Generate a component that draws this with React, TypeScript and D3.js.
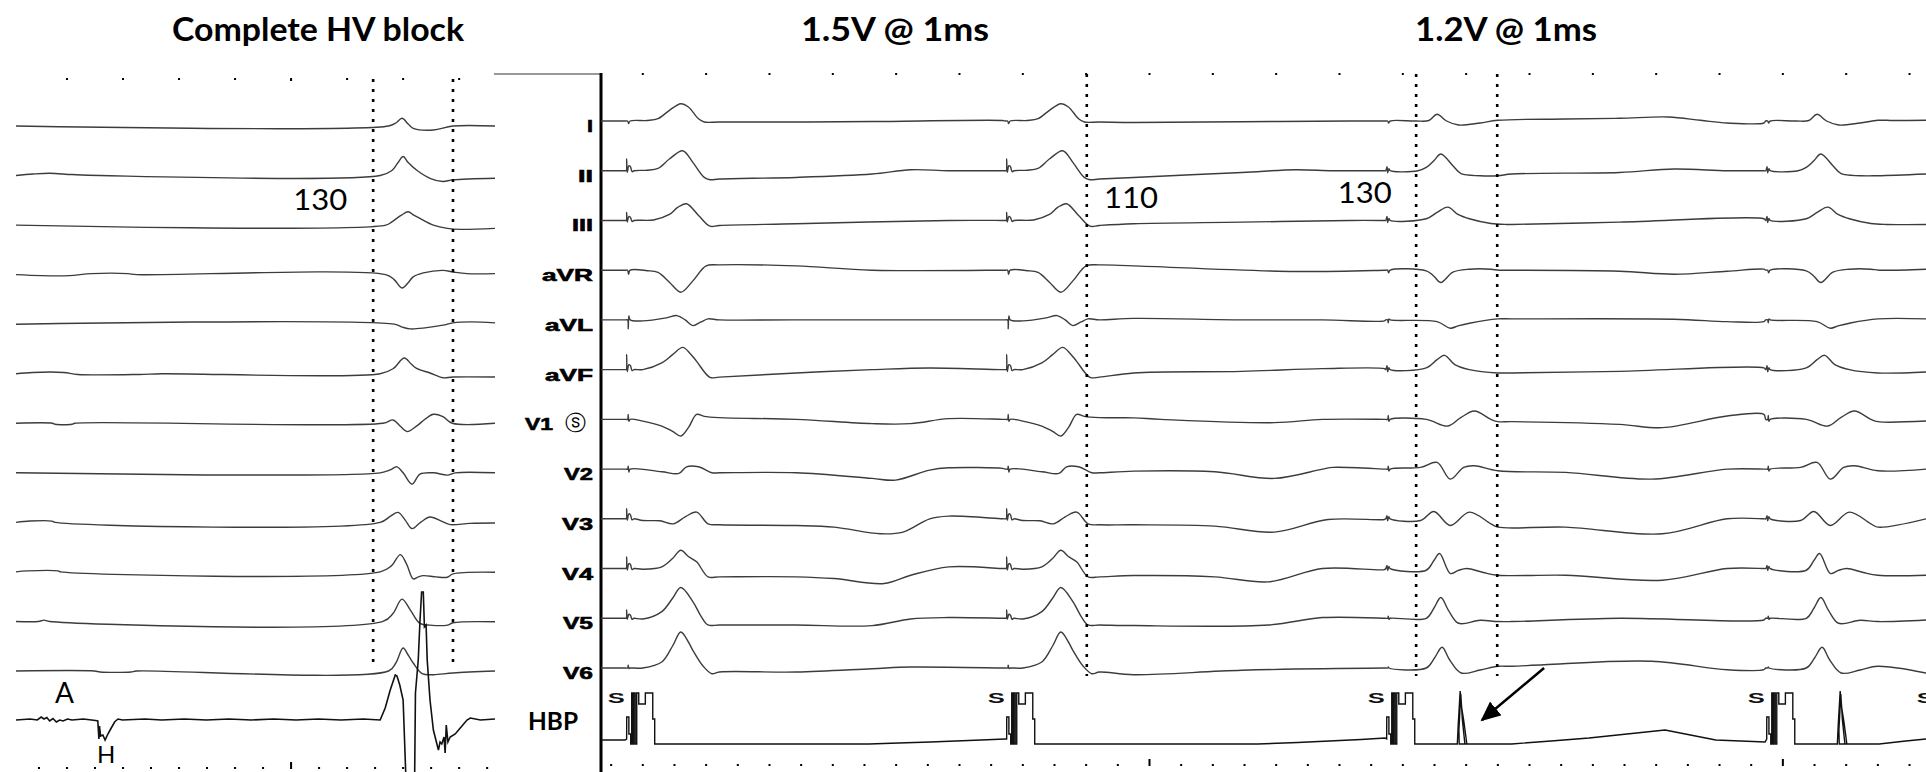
import * as d3 from "d3";

// lead order, top to bottom, in both panels
const leadNames = ["I", "II", "III", "aVR", "aVL", "aVF", "V1", "V2", "V3", "V4", "V5", "V6"];

const titles = ["Complete HV block", "1.5V @ 1ms", "1.2V @ 1ms"];

// ---- left panel: complete HV block (time in ms, amplitude in trace units, up = +) ----
const leftTraces: Record<string, number[][]> = {
  I: [[0, 0], [665, 0], [678, 3], [689, 7.7], [700, 2], [709, -2.3], [745, -4], [780, 0], [855, 0]],
  II: [[0, 0], [30, 1.5], [60, 2.3], [100, 1], [150, 0], [650, 0], [671, 5], [682, 13], [691, 19], [700, 13], [716, 5], [740, -3], [762, -6], [780, -4.3], [855, -2.7]],
  III: [[0, 0], [660, 0], [671, 3.3], [688, 10], [700, 13.3], [710, 10], [721, 6.7], [745, 0], [770, -3.3], [793, -4.3], [855, -3.3]],
  aVR: [[0, 0], [45, -1], [95, -1], [135, 1], [200, 1], [215, 0], [660, 0], [675, -5], [689, -13.3], [700, -8], [709, -2.3], [727, 1.7], [762, 4.3], [780, 2.7], [805, 1], [855, 1]],
  aVL: [[0, 0], [675, 0], [690, -3], [704, -4.7], [730, -3.7], [762, -1], [780, 1.3], [811, 2.3], [855, 1.3]],
  aVF: [[0, 0], [30, 1.3], [85, 1.3], [110, -0.7], [220, -0.7], [260, 0], [650, 0], [673, 5], [693, 15.7], [705, 10], [716, 5], [739, 0.7], [762, -4], [780, -3.3], [855, -3.3]],
  V1: [[0, 0], [65, 0], [70, -1], [100, -1], [105, 0], [655, 0], [673, 3.3], [686, -3], [698, -8.3], [716, -2.3], [730, 4], [745, 9], [762, 6.7], [779, 0], [855, 0]],
  V2: [[0, 0], [650, 0], [668, 3], [680, 6], [691, 0], [707, -11.3], [721, -1.3], [745, 0], [770, -2.3], [784, 0], [855, 0]],
  V3: [[0, 0], [25, 1.3], [64, 1.3], [70, 0], [650, 0], [668, 6], [682, 10], [695, 2], [707, -6.3], [722, 0], [739, 5.3], [760, 1], [775, -2.3], [810, -1], [855, -0.7]],
  V4: [[0, 0], [20, 1], [75, 1], [80, 0], [650, 0], [670, 6], [686, 17.3], [697, 8], [709, -7], [718, -5], [727, -3.7], [750, -5], [770, -5.3], [780, -2], [855, -0.3]],
  V5: [[0, 0], [40, 0], [50, 1.3], [60, 0], [655, 0], [673, 8], [689, 22.3], [704, 11.3], [721, -2], [739, -3.7], [770, -3.7], [780, -1.3], [855, -0.3]],
  V6: [[0, 0], [140, 0], [150, -1], [205, -1], [215, 0], [665, 0], [678, 8], [691, 23], [700, 16], [709, 8], [725, -2.7], [745, -3.7], [780, -2], [855, 0]],
};

// His bundle electrogram under the left panel
const hvTrace = [
  [0, 0], [25, 1], [38, 0], [45, 3], [50, 1], [55, 2.5], [60, -1], [66, 1.5], [72, -2], [78, 0], [84, -1], [92, 1], [100, 0],
  [120, 1], [135, 0], [142, -0.5], [146, -1], [148, -19], [149, -6], [151, -16], [155, -15], [159, -20], [164, -14], [170, -8], [176, -2], [182, 1], [190, 0],
  [230, 1], [260, 0], [300, 1], [340, 0], [380, 1], [420, 0], [460, 1], [500, 0], [540, 1], [580, 0], [620, 1], [650, 0],
  [659, 12], [668, 30], [677, 45], [680, 44], [685, 35], [691, 20], [698, -90], [711, -90], [713, 27], [718, 60], [721, 98],
  [724, 128], [727, 128], [729, 93], [732, 95], [734, 60], [739, 20], [745, -10], [754, -30], [757, -22], [760, -24], [764, -17],
  [766, -33], [768, -5], [771, -22], [775, -17], [784, -14], [793, -8], [805, 0], [811, 2], [829, 0], [855, 1],
];

// ---- right panel: His bundle pacing ----
const pace15 = [43, 643];
const pace12 = [1243, 1843];

// beat shapes after each stimulus (dt in ms from the stimulus)
const beat15: Record<string, number[][]> = {
  I: [[-4, 0], [-1, 0], [0.5, -2.5], [3, 0], [30, 0.5], [47, 2.3], [65, 10.7], [83, 17.3], [95, 14], [111, 2.3], [120, -1], [144, -1]],
  II: [[-4, 0], [-3, 0], [-2.5, 11.7], [-1.5, -1.7], [1, 5], [3.5, 4], [6, -1], [9, 0], [30, 0.5], [47, 2.3], [65, 11.7], [86, 20], [102, 8.3], [120, -6.7], [129, -9], [144, -8.3]],
  III: [[-4, 0], [-3, 0], [-2.5, 8], [-1.5, -1.5], [1, 4], [3.5, 3], [6, -1], [9, 0], [40, 0.5], [65, 6], [78, 13], [92, 16.7], [111, 5], [129, -5.7], [144, -5]],
  aVR: [[-4, 0], [-1, 0], [0.5, -4], [3, 0], [30, -0.5], [47, -2.3], [65, -12], [83, -22], [102, -10.7], [123, 4.3], [144, 5.3]],
  aVL: [[-4, 0], [-1, 0], [0, -9], [1, 4], [3, 0], [23, -1], [60, 2], [77, 4.3], [90, 0], [102, -5.7], [115, -2], [126, 1], [144, 0]],
  aVF: [[-4, 0], [-3, 0], [-2.5, 15], [-1.5, -2], [1, 5], [3.5, 4], [6, -1], [9, 0], [23, 0], [53, 6.7], [70, 15], [86, 22.3], [98, 16], [108, 8.3], [129, -7.7], [144, -7.5]],
  V1: [[-4, 0], [-1, 0], [0, 5], [1, -2], [3, 0], [23, -1.7], [53, -6.7], [70, -12], [83, -16.7], [95, -8.3], [108, 5], [120, 3], [144, 1.7]],
  V2: [[-4, 0], [-1, 0], [0, 3], [1, -3], [3, 0], [53, -2.7], [80, -4.3], [92, 2.3], [111, 2.3], [132, -3.7], [144, -3.7]],
  V3: [[-4, 0], [-3, 0], [-2.5, 10], [-1.5, -1.5], [1, 5], [3.5, 4], [6, -1], [9, 0], [23, -1.7], [50, -2], [71, -5], [90, 2], [108, 6.7], [126, -5], [144, -6]],
  V4: [[-4, 0], [-3, 0], [-2.5, 11.7], [-1.5, -1.5], [1, 5], [3.5, 4], [6, -1], [9, 0], [23, -0.7], [53, 1.7], [70, 10], [83, 18.3], [95, 12], [108, 6.7], [126, -8.3], [144, -8.3]],
  V5: [[-4, 0], [-3, 0], [-2.5, 8.3], [-1.5, -1], [1, 4], [3.5, 3], [6, -1], [9, 0], [23, -0.7], [53, 6.7], [70, 20], [83, 30.7], [102, 16.7], [115, 2], [126, -6.7], [144, -6.7]],
  V6: [[-4, 0], [-1, 0], [0, 2.7], [1, -0.5], [3, 0], [23, 0], [53, 6], [70, 22], [83, 36], [95, 26], [102, 17.7], [118, 2], [132, -5.7], [144, -4]],
};

const beat12: Record<string, number[][]> = {
  I: [[-4, 0], [-1, 0], [0.5, -2], [3, 0], [43, 0], [64, 0.5], [77, 6.7], [92, 0], [111, -4], [145, -2], [173, 0.7]],
  II: [[-4, 0], [-2, 4], [-1, -2], [1, 2], [3, 0], [47, 0], [60, 3.3], [72, 10], [83, 16.7], [102, 5], [115, -3], [145, -5], [173, -5]],
  III: [[-4, 0], [-2, 4], [-1, -2], [1, 2], [3, 0], [60, 1.7], [77, 8], [94, 13.3], [110, 6], [128, 1.7], [162, -3], [187, -4]],
  aVR: [[-4, 0], [-1, 0], [0.5, -2.5], [3, 0], [60, -0.7], [72, -6], [83, -12.3], [102, -2], [128, 1], [162, 1], [175, 0]],
  aVL: [[-4, 0], [-1, 0], [0, -3], [1, 1], [3, 0], [77, -1.7], [98, -8.3], [110, -6], [128, -3.3], [173, 1]],
  aVF: [[-4, 0], [-2, 4], [-1, -2], [1, 2], [3, 0], [60, 1.7], [77, 10], [89, 14.3], [105, 5], [128, 0], [173, -3.3]],
  V1: [[-4, 0], [-1, 0], [0, 4], [1, -2], [3, 0], [60, 0], [94, -6.7], [115, 2], [136, 8.3], [162, 0], [173, -2.3]],
  V2: [[-4, 0], [-1, 0], [0, 3], [1, -2], [3, 0], [51, 1.7], [77, 6.7], [98, -10], [119, 1.7], [136, 3.3], [173, -1.7]],
  V3: [[-4, 0], [-2, 3], [-1, -2], [1, 2], [3, 0], [51, -1.7], [72, 7.3], [98, -6.7], [128, 6.7], [162, -5], [173, -8.3]],
  V4: [[-4, 0], [-2, 3], [-1, -2], [1, 2], [3, 0], [60, -1.7], [72, 8], [81, 15], [98, -5], [110, -2], [124, 0], [150, -4], [173, -6.7]],
  V5: [[-4, 0], [-1, 0], [0, 2], [1, -1], [3, 0], [60, 0], [72, 10], [83, 20.7], [95, 8], [111, -5], [145, -2], [173, -3.3]],
  V6: [[-4, 0], [-1, 0], [0, 1], [1, 0], [60, 0], [73, 10], [85, 20.7], [97, 8], [115, -5], [145, -2], [173, 1.7]],
};

// baseline wander between beats (absolute ms)
const drift: Record<string, number[][]> = {
  I: [[0, 0], [300, -1], [428, -0.5], [634, 0.5], [841, -1.5], [1012, -0.7], [1182, 0], [1237, 0], [1523, 2], [1608, 2.7], [1685, 4], [1736, 0.7], [1778, -2], [1836, -2], [2040, 0.5], [2092, 0.7]],
  II: [[0, 0], [308, -6.7], [428, -3.3], [489, 1], [549, 0], [634, 0], [841, -6.7], [1012, -1.7], [1097, 1], [1156, 0], [1237, 0], [1438, -3.3], [1608, -1.7], [1694, 1.7], [1778, 0], [1836, 0], [2092, -3.3]],
  III: [[0, 0], [308, -3.3], [549, 0], [634, 0], [841, -3.3], [1012, -1.7], [1182, 0], [1237, 0], [1438, -4], [1608, -1.7], [1836, 1.7], [2092, -4]],
  aVR: [[0, 0], [308, 4.3], [428, 0], [634, 0], [841, 4.3], [1097, -1.3], [1237, 0], [1438, 0], [1608, -1], [1694, -4], [1778, -1], [1836, 1], [2092, 1]],
  aVL: [[0, 0], [300, 0], [634, 0], [841, 1.5], [1012, 0], [1139, 0], [1237, -1], [1438, 1], [1694, 0.7], [1778, -1.7], [1836, -1.7], [2092, 1]],
  aVF: [[0, 0], [308, -3.3], [428, 0], [519, 1.7], [634, 0], [841, -3.3], [1012, -1.7], [1139, 1], [1237, 1], [1438, -3.3], [1608, -1.7], [1836, 1.7], [2092, -2.3]],
  V1: [[0, 0], [308, 0], [428, -4.3], [489, -4.3], [549, 0.7], [634, 0], [841, 1.5], [884, 0], [1063, -3.3], [1139, 0], [1237, 0], [1438, -2.3], [1608, -5], [1676, -8.3], [1778, 3.3], [1836, 5], [2092, -1.7]],
  V2: [[0, 0], [308, -3.7], [428, -9.3], [465, -11], [519, -1], [549, 1.3], [634, 0.7], [841, -2], [969, -2.7], [1063, -9.3], [1139, 0], [1156, 1.7], [1237, 0], [1523, -3.3], [1659, -10], [1778, 0], [1836, 0], [2092, 0]],
  V3: [[0, 0], [308, -6.7], [368, -8.3], [441, -15], [477, -13.3], [519, 0], [549, 2.7], [634, 0], [841, -6], [969, -7.3], [1063, -13.3], [1148, -0.7], [1237, -0.7], [1523, -8.3], [1676, -15], [1778, 0], [1836, 0], [2092, 0]],
  V4: [[0, 0], [308, -8.3], [368, -10], [447, -15], [489, -6.7], [549, 1.7], [634, 0], [841, -7], [969, -8.3], [1054, -13.3], [1139, 0], [1237, -1], [1523, -6.7], [1676, -11.7], [1778, 0], [1836, 0], [2092, -6.7]],
  V5: [[0, 0], [308, -6.7], [428, -7.3], [489, -0.7], [549, 0.7], [634, 0], [841, -7.3], [1054, -6.7], [1139, 0.7], [1237, 0], [1438, -3.3], [1608, 0], [1836, -1.7], [2092, -1.7]],
  V6: [[0, 0], [308, -4], [428, -0.7], [489, 1], [634, 0], [841, -6.7], [1012, -2.3], [1237, 0], [1438, 1.7], [1489, 3.3], [1659, 6.7], [1778, -1.7], [1836, -1.7], [2092, -5]],
};

// HBP channel
const hbpDrift = [[0, 4], [38, 4], [90, 0], [423, 0], [470, 1], [520, 2], [560, 3], [600, 4], [638, 5], [690, 0], [1037, 0], [1100, 1.5], [1150, 3], [1200, 4.5], [1238, 6], [1380, 0], [1438, 0], [1500, 3], [1560, 6], [1620, 10], [1680, 14], [1720, 9], [1760, 4], [1838, 2], [1980, 0], [2018, 0], [2060, 3], [2092, 5]];
const hbpPace = [
  [-2.5, 5], [-2.4, 27], [1, 27], [1, 10], [3.9, 10], [3.9, 0], [5.5, 0], [5.5, 51], [7.1, 51], [7.1, 0], [8.7, 0], [8.7, 51],
  [11, 51], [11, 0], [13.4, 0], [13.4, 51], [16.6, 51], [16.6, 40], [27, 40], [27, 51], [38.7, 51], [38.7, 25], [41.8, 25], [41.8, 0],
];
const hbpCapture = [[109, 0], [110.5, 20], [113.5, 53], [116, 36], [119, 24], [122, 10], [124, 0], [121, 0], [117, 24], [114.5, 50], [111.5, 14], [112, 0]];
const stimMarks = [24, 624, 1224, 1824, 2091];

// calipers and measured intervals
const leftCalipers = [637.5, 780];
const rightCalipers = [767, 1287, 1415];
const leftIntervals = [{ text: "130", t: 543 }];
const rightIntervals = [{ text: "110", t: 837 }, { text: "130", t: 1206 }];

const W = 1926;
const H = 772;

const xL = d3.scaleLinear().domain([0, 855]).range([16, 495]);
const xR = d3.scaleLinear().domain([0, 2092]).range([601, 1926]);
const rowL = d3.scalePoint().domain(leadNames).range([126, 671]);
const rowR = d3.scalePoint().domain(leadNames).range([121, 668]);
const amp = d3.scaleLinear().domain([0, 1]).range([0, -1]);
const hvBase = 720;
const hbpBase = 744;

function compose(base: number[][], events: { t0: number; tpl: number[][] }[]) {
  const evs = [...events].sort((a, b) => a.t0 + a.tpl[0][0] - (b.t0 + b.tpl[0][0]));
  const out: number[][] = [];
  let lastEnd = -Infinity;
  let i = 0;
  for (const e of evs) {
    const start = e.t0 + e.tpl[0][0];
    while (i < base.length && base[i][0] < start) {
      if (base[i][0] > lastEnd) out.push(base[i]);
      i++;
    }
    e.tpl.forEach(([dt, a]) => out.push([e.t0 + dt, a]));
    lastEnd = e.t0 + e.tpl[e.tpl.length - 1][0];
  }
  for (; i < base.length; i++) if (base[i][0] > lastEnd) out.push(base[i]);
  return out;
}

const smooth = (x: any, y0: number) =>
  d3.line<number[]>().x(d => x(d[0])).y(d => y0 + amp(d[1])).curve(d3.curveCatmullRom.alpha(0.5));
const sharp = (x: any, y0: number) =>
  d3.line<number[]>().x(d => x(d[0])).y(d => y0 + amp(d[1]));

const labelLen: Record<string, number> = {
  I: 6, II: 15, III: 21, aVR: 51, aVL: 48, aVF: 48, V1: 28, V2: 29, V3: 31, V4: 31, V5: 30, V6: 30,
};

const calibri = "Lato, 'Open Sans', sans-serif";
const arialB = "'Liberation Sans', Arial, sans-serif";
const traceColor = "#3c3c3c";

export default function App() {
  const allPace = [...pace15, ...pace12];
  const rightSeries = leadNames.map(lead =>
    compose(drift[lead], [
      ...pace15.map(t0 => ({ t0, tpl: beat15[lead] })),
      ...pace12.map(t0 => ({ t0, tpl: beat12[lead] })),
    ])
  );
  const hbpSeries = compose(hbpDrift, [
    ...allPace.map(t0 => ({ t0, tpl: hbpPace })),
    ...pace12.map(t0 => ({ t0, tpl: hbpCapture })),
  ]);

  const leftTop = d3.range(91, 855, 100);
  const leftBottom = d3.range(41, 855, 50);
  const rightTop = d3.range(66, 2092, 100);
  const rightBottom = d3.range(16, 2092, 50);

  const titleX = [318, 895, 1506];
  const titleLen = [292, 188, 182];

  return (
    <svg width={W} height={H} style={{ position: "absolute", left: 0, top: 0, background: "#fff" }}>
      <rect width={W} height={H} fill="#fff" />
      <defs>
        <marker id="arrowHead" markerUnits="userSpaceOnUse" markerWidth={22} markerHeight={18}
          refX={18} refY={9} orient="auto">
          <path d="M0,0 L20,9 L0,18 Z" fill="#000" />
        </marker>
      </defs>

      {/* titles */}
      {titles.map((t, i) => (
        <text key={t} x={titleX[i]} y={41} textAnchor="middle" fontFamily={calibri} fontWeight={700}
          fontSize={32} textLength={titleLen[i]} lengthAdjust="spacingAndGlyphs" fill="#000">
          {t}
        </text>
      ))}

      {/* time marks */}
      {leftTop.map(t => (
        <rect key={"lt" + t} x={xL(t) - 1} y={78} width={2} height={t === 491 ? 3 : 2} fill="#000" />
      ))}
      {leftBottom.map(t => (
        <rect key={"lb" + t} x={xL(t) - 1} y={t === 491 ? 762 : 767} width={2} height={t === 491 ? 7 : 2} fill="#000" />
      ))}
      {rightTop.map(t => (
        <rect key={"rt" + t} x={xR(t) - 1} y={73} width={2} height={2} fill="#000" />
      ))}
      {rightBottom.map(t => (
        <rect key={"rb" + t} x={xR(t) - 1} y={(t - 866) % 1000 === 0 ? 759 : 764} width={2}
          height={(t - 866) % 1000 === 0 ? 7 : 2} fill="#000" />
      ))}

      {/* frame */}
      <line x1={494} x2={601} y1={74} y2={74} stroke="#777" strokeWidth={1.3} />
      <line x1={601} x2={601} y1={73} y2={H} stroke="#000" strokeWidth={3} />

      {/* left panel traces */}
      {leadNames.map(lead => (
        <path key={"L" + lead} d={smooth(xL, rowL(lead) as number)(leftTraces[lead]) as string}
          fill="none" stroke={traceColor} strokeWidth={1.4} />
      ))}
      <path d={sharp(xL, hvBase)(hvTrace) as string} fill="none" stroke="#111" strokeWidth={1.6} />

      {/* right panel traces */}
      {leadNames.map((lead, i) => (
        <path key={"R" + lead} d={smooth(xR, rowR(lead) as number)(rightSeries[i]) as string}
          fill="none" stroke={traceColor} strokeWidth={1.4} />
      ))}
      <path d={sharp(xR, hbpBase)(hbpSeries) as string} fill="none" stroke="#111" strokeWidth={1.4} />
      {stimMarks.map(t => (
        <text key={"s" + t} x={xR(t)} y={703} textAnchor="middle" fontFamily={arialB} fontWeight={700}
          fontSize={14} textLength={17} lengthAdjust="spacingAndGlyphs" fill="#111">
          S
        </text>
      ))}

      {/* lead labels */}
      {leadNames.map(lead =>
        lead === "V1" ? (
          <g key={"lab" + lead}>
            <text x={553} y={(rowR(lead) as number) + 11} textAnchor="end" fontFamily={arialB} fontWeight={700}
              fontSize={17} textLength={labelLen[lead]} lengthAdjust="spacingAndGlyphs" fill="#000"
              stroke="#000" strokeWidth={0.6}>
              V1
            </text>
            <text x={575} y={(rowR(lead) as number) + 11} textAnchor="middle" fontFamily="'DejaVu Sans', sans-serif"
              fontSize={21} fill="#000">
              ⓢ
            </text>
          </g>
        ) : (
          <text key={"lab" + lead} x={593} y={(rowR(lead) as number) + 11} textAnchor="end" fontFamily={arialB}
            fontWeight={700} fontSize={17} textLength={labelLen[lead]} lengthAdjust="spacingAndGlyphs" fill="#000"
            stroke="#000" strokeWidth={0.6}>
            {lead}
          </text>
        )
      )}
      <text x={528} y={730} fontFamily={calibri} fontWeight={700} fontSize={25} textLength={50}
        lengthAdjust="spacingAndGlyphs" fill="#000">
        HBP
      </text>

      {/* calipers */}
      {leftCalipers.map(t => (
        <line key={"lc" + t} x1={xL(t)} x2={xL(t)} y1={79} y2={667} stroke="#000" strokeWidth={2.6}
          strokeDasharray="3 7" />
      ))}
      {rightCalipers.map(t => (
        <line key={"rc" + t} x1={xR(t)} x2={xR(t)} y1={74} y2={676} stroke="#000" strokeWidth={2.6}
          strokeDasharray="3 7" />
      ))}
      {leftIntervals.map(d => (
        <text key={"li" + d.t} x={xL(d.t)} y={210} textAnchor="middle" fontFamily={calibri} fontSize={28}
          textLength={54} lengthAdjust="spacingAndGlyphs" fill="#000">
          {d.text}
        </text>
      ))}
      {rightIntervals.map((d, i) => (
        <text key={"ri" + d.t} x={xR(d.t)} y={i === 0 ? 208 : 203} textAnchor="middle" fontFamily={calibri}
          fontSize={28} textLength={54} lengthAdjust="spacingAndGlyphs" fill="#000">
          {d.text}
        </text>
      ))}

      {/* HV annotations */}
      <text x={55} y={703} fontFamily={calibri} fontSize={28} fill="#000">A</text>
      <text x={97} y={763} fontFamily={calibri} fontSize={24} fill="#000">H</text>

      {/* arrow to the His capture */}
      <line x1={xR(1489)} y1={rowR("V6") as number} x2={xR(1391)} y2={hbpBase - 24} stroke="#000"
        strokeWidth={2.6} markerEnd="url(#arrowHead)" />
    </svg>
  );
}
